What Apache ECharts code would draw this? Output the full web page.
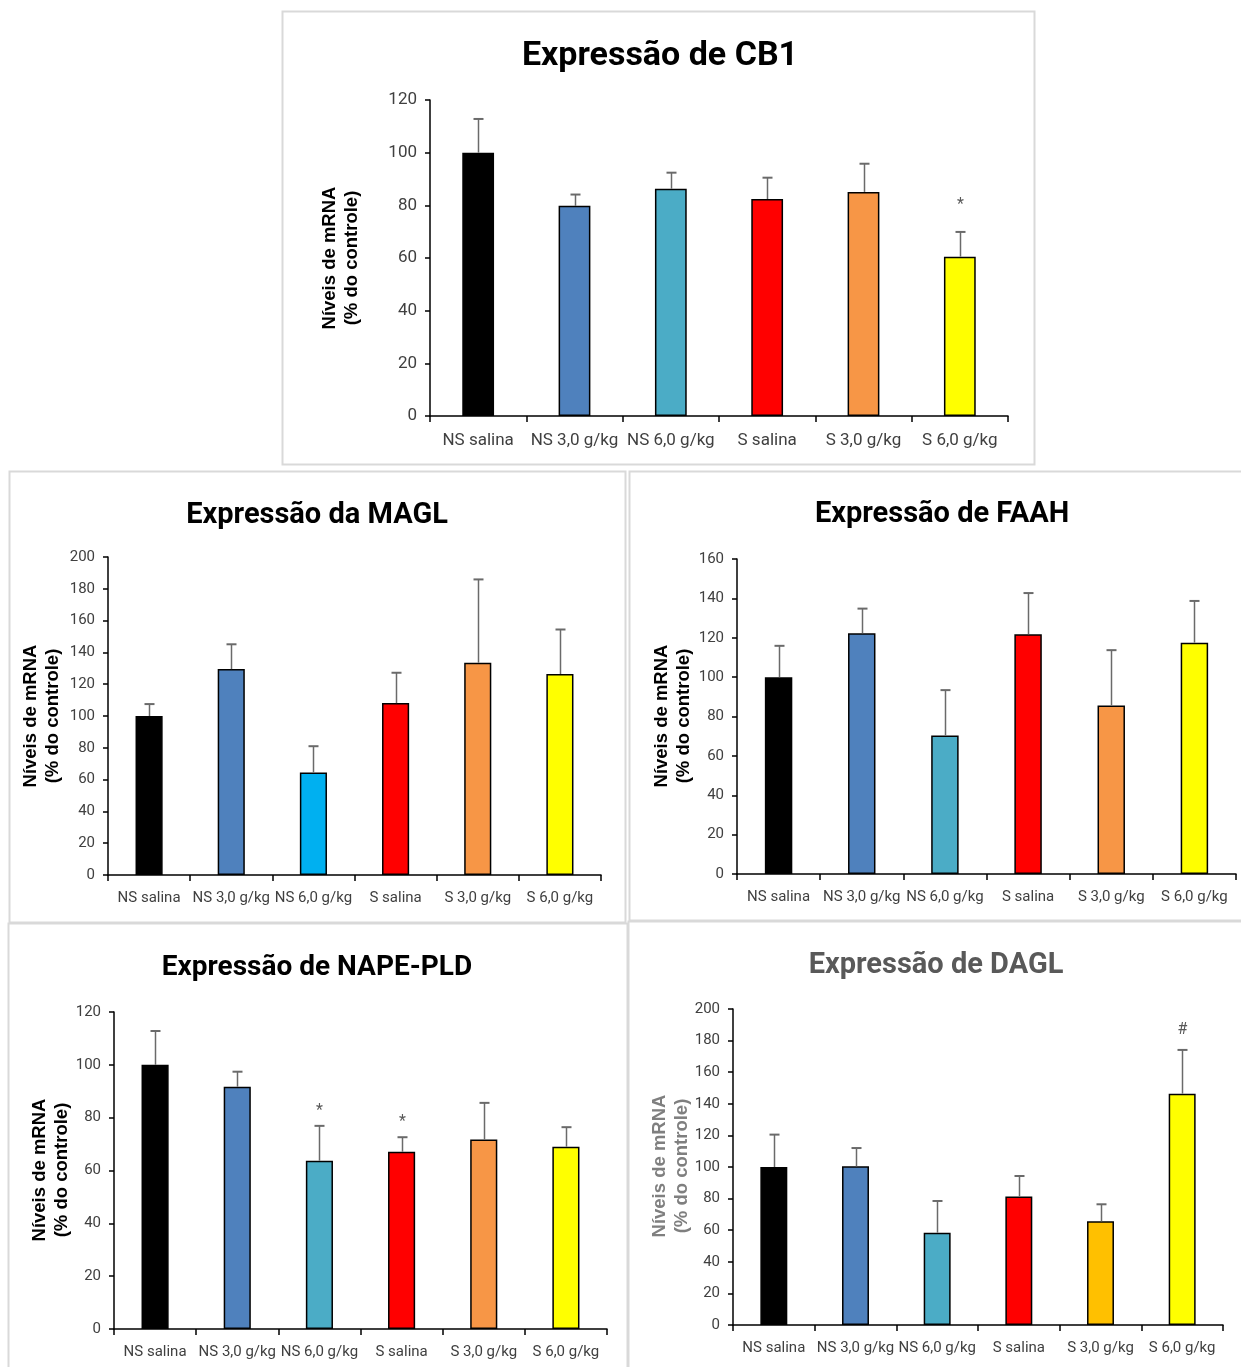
<!DOCTYPE html>
<html>
<head>
<meta charset="utf-8">
<script src="https://cdn.jsdelivr.net/npm/echarts@6/dist/echarts.min.js"></script>
<style>
  html, body { margin: 0; padding: 0; background: #fff; }
  #chart { width: 1241px; height: 1367px; }
</style>
</head>
<body>
<div id="chart"></div>
<script>
// Groups shared by all five panels
const categories = ['NS salina', 'NS 3,0 g/kg', 'NS 6,0 g/kg', 'S salina', 'S 3,0 g/kg', 'S 6,0 g/kg'];

// CB1 expression (% of control), mean and upper error
const cb1Values = [100, 79.8, 86.3, 82.4, 85.1, 60.5];
const cb1Errors = [12.8, 4.3, 6.1, 8.1, 10.7, 9.4];
const cb1Marks = ['', '', '', '', '', '*'];
const cb1Ticks = [0, 20, 40, 60, 80, 100, 120];

// MAGL expression
const maglValues = [100, 129.5, 64.4, 108.1, 133.5, 126.4];
const maglErrors = [7.5, 15.6, 16.6, 19.1, 52.4, 28.0];
const maglMarks = ['', '', '', '', '', ''];
const maglTicks = [0, 20, 40, 60, 80, 100, 120, 140, 160, 180, 200];

// FAAH expression
const faahValues = [100, 122.3, 70.4, 121.8, 85.6, 117.5];
const faahErrors = [15.9, 12.5, 23.0, 20.9, 28.1, 21.2];
const faahMarks = ['', '', '', '', '', ''];
const faahTicks = [0, 20, 40, 60, 80, 100, 120, 140, 160];

// NAPE-PLD expression
const napeValues = [100, 91.7, 63.7, 67.1, 71.7, 69.0];
const napeErrors = [12.8, 5.7, 13.2, 5.5, 13.9, 7.4];
const napeMarks = ['', '', '*', '*', '', ''];
const napeTicks = [0, 20, 40, 60, 80, 100, 120];

// DAGL expression
const daglValues = [100, 100.4, 58.4, 81.4, 65.6, 146.4];
const daglErrors = [20.5, 11.6, 20.1, 12.9, 10.8, 27.7];
const daglMarks = ['', '', '', '', '', '#'];
const daglTicks = [0, 20, 40, 60, 80, 100, 120, 140, 160, 180, 200];

// Bar fills per group
const colorsDefault = ['#000000', '#4F81BD', '#4BACC6', '#FF0000', '#F79646', '#FFFF00'];
const colorsMagl = ['#000000', '#4F81BD', '#00B0F0', '#FF0000', '#F79646', '#FFFF00'];
const colorsDagl = ['#000000', '#4F81BD', '#4BACC6', '#FF0000', '#FFC000', '#FFFF00'];

const LABEL_FONT = 'Roboto, "Noto Sans", sans-serif';
const ARIAL = '"Liberation Sans", Arial, sans-serif';

const panels = [
  { title: 'Expressão de CB1', titleColor: '#000', titleX: 655, titleY: 34, titleSize: 34,
    grid: { left: 430, top: 100, width: 578, height: 316 },
    values: cb1Values, errors: cb1Errors, marks: cb1Marks, ticks: cb1Ticks, colors: colorsDefault,
    labelSize: 17, nameX: 341, nameY: 258, nameColor: '#000', markGap: 27,
    box: [282.5, 11.5, 752, 453] },
  { title: 'Expressão da MAGL', titleColor: '#000', titleX: 312, titleY: 496, titleSize: 29,
    grid: { left: 108, top: 557, width: 493, height: 318 },
    values: maglValues, errors: maglErrors, marks: maglMarks, ticks: maglTicks, colors: colorsMagl,
    labelSize: 15, nameX: 42, nameY: 716, nameColor: '#000', markGap: 20,
    box: [9.5, 471.5, 616, 451] },
  { title: 'Expressão de FAAH', titleColor: '#000', titleX: 937, titleY: 495, titleSize: 29,
    grid: { left: 737, top: 559, width: 499, height: 315 },
    values: faahValues, errors: faahErrors, marks: faahMarks, ticks: faahTicks, colors: colorsDefault,
    labelSize: 15, nameX: 673, nameY: 716, nameColor: '#000', markGap: 20,
    box: [629.5, 471.5, 630, 449] },
  { title: 'Expressão de NAPE-PLD', titleColor: '#000', titleX: 312, titleY: 949, titleSize: 28,
    grid: { left: 114, top: 1012, width: 493, height: 317 },
    values: napeValues, errors: napeErrors, marks: napeMarks, ticks: napeTicks, colors: colorsDefault,
    labelSize: 15, nameX: 51, nameY: 1170, nameColor: '#000', markGap: 15,
    box: [8.5, 923.5, 619, 460] },
  { title: 'Expressão de DAGL', titleColor: '#595959', titleX: 931, titleY: 946, titleSize: 29,
    grid: { left: 733, top: 1009, width: 490, height: 316 },
    values: daglValues, errors: daglErrors, marks: daglMarks, ticks: daglTicks, colors: colorsDagl,
    labelSize: 15, nameX: 671, nameY: 1166, nameColor: '#7F7F7F', markGap: 20,
    box: [628.5, 921.5, 630, 460] }
];

function errorSeries(idx, p) {
  return {
    type: 'custom',
    xAxisIndex: idx,
    yAxisIndex: idx,
    z: 3,
    silent: true,
    data: p.values.map((v, i) => [i, v, p.errors[i]]),
    renderItem: function (params, api) {
      const v = api.value(1);
      const e = api.value(2);
      const base = api.coord([api.value(0), v]);
      const top = api.coord([api.value(0), v + e]);
      const x = Math.round(base[0]) + 0.5;
      const children = [
        { type: 'line', shape: { x1: x, y1: base[1], x2: x, y2: top[1] },
          style: { stroke: '#6A6A6A', lineWidth: 1.5 } },
        { type: 'line', shape: { x1: x - 5, y1: top[1], x2: x + 5, y2: top[1] },
          style: { stroke: '#6A6A6A', lineWidth: 2 } }
      ];
      const mark = p.marks[params.dataIndex];
      if (mark) {
        children.push({
          type: 'text', x: x, y: top[1] - p.markGap,
          style: { text: mark, fill: '#595959', fontSize: 16, fontFamily: LABEL_FONT,
                   align: 'center', verticalAlign: 'middle' }
        });
      }
      return { type: 'group', children: children };
    }
  };
}

const option = {
  animation: false,
  backgroundColor: '#ffffff',
  title: panels.map(p => ({
    text: p.title,
    left: p.titleX,
    top: p.titleY,
    textAlign: 'center',
    textStyle: { fontFamily: LABEL_FONT, fontWeight: 'bold', fontSize: p.titleSize, color: p.titleColor }
  })),
  grid: panels.map(p => Object.assign({ outerBoundsMode: 'none', containLabel: false }, p.grid)),
  xAxis: panels.map((p, i) => ({
    type: 'category',
    gridIndex: i,
    data: categories,
    axisLine: { show: true, lineStyle: { color: '#000', width: 1.5 } },
    axisTick: { show: true, inside: false, length: 6, lineStyle: { color: '#000', width: 1.5 } },
    axisLabel: { color: '#404040', fontFamily: LABEL_FONT, fontSize: p.labelSize, margin: 16, interval: 0 },
    splitLine: { show: false }
  })),
  yAxis: panels.map((p, i) => ({
    type: 'value',
    gridIndex: i,
    min: p.ticks[0],
    max: p.ticks[p.ticks.length - 1],
    interval: p.ticks[1] - p.ticks[0],
    axisLine: { show: true, lineStyle: { color: '#000', width: 1.5 } },
    axisTick: { show: true, inside: false, length: 5, lineStyle: { color: '#000', width: 1.5 } },
    axisLabel: { color: '#404040', fontFamily: LABEL_FONT, fontSize: p.labelSize, margin: 13 },
    splitLine: { show: false }
  })),
  series: panels.flatMap((p, i) => [
    {
      type: 'bar',
      xAxisIndex: i,
      yAxisIndex: i,
      barWidth: '33%',
      z: 2,
      data: p.values.map((v, k) => ({ value: v, itemStyle: { color: p.colors[k] } })),
      itemStyle: { borderColor: '#000', borderWidth: 1.5 }
    },
    errorSeries(i, p)
  ]),
  graphic: panels.flatMap(p => [
    { type: 'rect', z: -10, silent: true,
      shape: { x: p.box[0], y: p.box[1], width: p.box[2], height: p.box[3] },
      style: { fill: 'none', stroke: '#D9D9D9', lineWidth: 2 } },
    { type: 'text', x: p.nameX, y: p.nameY, rotation: Math.PI / 2, silent: true,
      style: { text: 'Níveis de mRNA\n(% do controle)', align: 'center', verticalAlign: 'middle',
               fontFamily: ARIAL, fontWeight: 'bold', fontSize: 18.5, lineHeight: 22, fill: p.nameColor } }
  ])
};

const chart = echarts.init(document.getElementById('chart'), null, { renderer: 'canvas' });
chart.setOption(option);
</script>
</body>
</html>
